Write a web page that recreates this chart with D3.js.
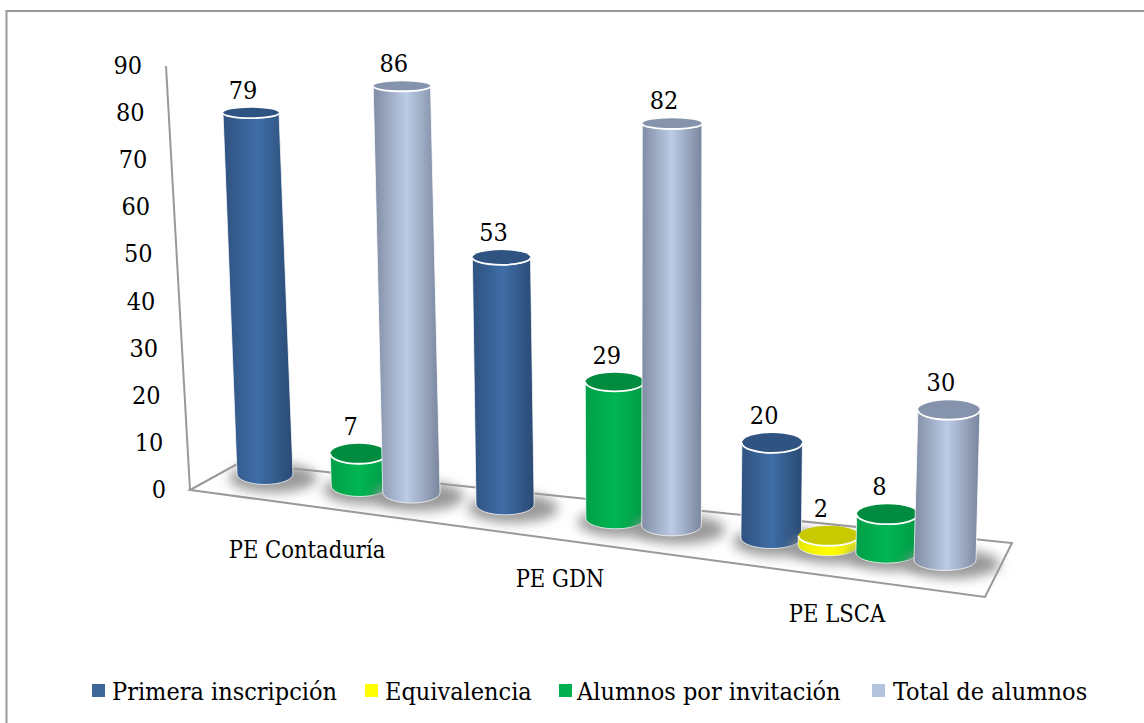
<!DOCTYPE html>
<html>
<head>
<meta charset="utf-8">
<script src="https://cdn.jsdelivr.net/npm/d3@7"></script>
<style>
  body { margin: 0; background: #fff; }
  text { font-family: "DejaVu Serif", serif; font-stretch: condensed; fill: #000; }
</style>
</head>
<body>
<div id="chart"></div>
<script>
// Data
const categories = ["PE Contaduría", "PE GDN", "PE LSCA"];
const seriesNames = ["Primera inscripción", "Equivalencia", "Alumnos por invitación", "Total de alumnos"];
const primera = [79, 53, 20];
const equivalencia = [null, null, 2];
const invitacion = [7, 29, 8];
const total = [86, 82, 30];
const yTicks = [0, 10, 20, 30, 40, 50, 60, 70, 80, 90];

const seriesValues = [primera, equivalencia, invitacion, total];
const sideColors = [
    ["#2f5280", "#3f6da6", "#2a4a73"],
    ["#e8e800", "#ffff00", "#e8e800"],
    ["#00a048", "#00b652", "#009a45"],
    ["#808ca3", "#bccbe6", "#79859c"]
];
const topColors = ["#2f5482", "#c9c900", "#008c40", "#8693ac"];
const legendColors = ["#3d6797", "#ffff00", "#00b050", "#b4c3de"];

const width = 1144, height = 723;
const svg = d3.select("#chart").append("svg")
    .attr("width", width)
    .attr("height", height);

const defs = svg.append("defs");
defs.append("filter").attr("id", "blur")
    .attr("x", "-50%").attr("y", "-100%").attr("width", "200%").attr("height", "300%")
    .append("feGaussianBlur").attr("stdDeviation", 6);
sideColors.forEach((c, i) => {
    const g = defs.append("linearGradient").attr("id", `side${i}`);
    g.append("stop").attr("offset", "0%").attr("stop-color", c[0]);
    g.append("stop").attr("offset", "50%").attr("stop-color", c[1]);
    g.append("stop").attr("offset", "100%").attr("stop-color", c[2]);
});

// Chart frame: only the top and left edges are inside the picture
svg.append("path")
    .attr("d", `M${width},11H6.5V${height}`)
    .attr("fill", "none").attr("stroke", "#999").attr("stroke-width", 2);

// Perspective scales: slot along the floor -> screen position
const slotStep = 4.75;
const xPos = d3.scalePow().exponent(1.076).domain([0, 12.5]).range([265, 945]);
const baseY = d3.scaleLinear().domain([265, 945]).range([474, 560]);
const unit = d3.scaleLinear().domain([265, 945]).range([4.57, 4.82]);
const totalBoost = d3.scaleLinear().domain([415, 670]).range([0.1, 0.18]).clamp(true);
const lean = d3.scaleLinear().domain([265, 945]).range([-0.177, 0.13]);
const radius = d3.scaleLinear().domain([265, 945]).range([28, 31]);
const topRy = d3.scaleLinear().domain([100, 430]).range([5, 10]).clamp(true);
const yAxisScale = d3.scaleLinear().domain([0, 90]).range([490, 66]);
const axisX = d3.scaleLinear().domain([0, 90]).range([190, 166]);

// Floor and wall
svg.append("path")
    .attr("d", "M190,490L239,463L1012,543L985,597Z")
    .attr("fill", "#fff").attr("stroke", "#999").attr("stroke-width", 2);
svg.append("line")
    .attr("x1", axisX(0)).attr("y1", yAxisScale(0))
    .attr("x2", axisX(90)).attr("y2", yAxisScale(90))
    .attr("stroke", "#999").attr("stroke-width", 2);

// Y tick labels follow the slanted wall
svg.append("g").selectAll("text").data(yTicks).join("text")
    .attr("x", d => axisX(d) - 24)
    .attr("y", d => yAxisScale(d) + 8)
    .attr("text-anchor", "end")
    .attr("font-size", 25)
    .text(d => d);

// Flatten into one bar list, left to right
const bars = [];
categories.forEach((cat, i) => {
    seriesValues.forEach((vals, j) => {
        if (vals[i] == null) return;
        bars.push({ series: j, value: vals[i], slot: i * slotStep + j });
    });
});

const barG = svg.append("g");
bars.forEach(d => {
    const bx = xPos(d.slot);
    const by = baseY(bx);
    const rx = radius(bx);
    const tx = bx + lean(bx) * d.value;
    const boost = d.series === 3 ? totalBoost(bx) : 0;
    const ty = by - (unit(bx) + boost) * d.value;
    const ry = topRy(ty);
    const ryB = 10.5;
    const g = barG.append("g");

    // soft shadow on the floor
    g.append("ellipse")
        .attr("cx", bx + 8).attr("cy", by + 4)
        .attr("rx", rx + 16).attr("ry", ryB + 4)
        .attr("fill", "#999")
        .attr("filter", "url(#blur)");

    // cylinder wall
    g.append("path")
        .attr("d", `M${tx - rx},${ty}L${bx - rx},${by}A${rx},${ryB} 0 0 0 ${bx + rx},${by}L${tx + rx},${ty}A${rx},${ry} 0 0 1 ${tx - rx},${ty}Z`)
        .attr("fill", `url(#side${d.series})`)
        .attr("stroke", "#fff").attr("stroke-opacity", 0.75);

    // top cap, with the bright rim on its front edge only
    g.append("ellipse")
        .attr("cx", tx).attr("cy", ty)
        .attr("rx", rx).attr("ry", ry)
        .attr("fill", topColors[d.series]);
    g.append("path")
        .attr("d", `M${tx - rx},${ty}A${rx},${ry} 0 0 0 ${tx + rx},${ty}`)
        .attr("fill", "none")
        .attr("stroke", "#fff").attr("stroke-width", 1.8);

    g.append("text")
        .attr("x", tx - 8)
        .attr("y", ty - ry - 9)
        .attr("text-anchor", "middle")
        .attr("font-size", 25)
        .text(d.value);
});

// Category labels
const catX = [307, 560, 837];
const catY = [558, 587, 622];
svg.append("g").selectAll("text").data(categories).join("text")
    .attr("x", (d, i) => catX[i])
    .attr("y", (d, i) => catY[i])
    .attr("text-anchor", "middle")
    .attr("font-size", 23.5)
    .text(d => d);

// Legend
const legendSwatch = [92, 365, 559, 872];
const legendText = [112, 385, 577, 893];
const legend = svg.append("g");
seriesNames.forEach((name, i) => {
    legend.append("rect")
        .attr("x", legendSwatch[i]).attr("y", 684)
        .attr("width", 13).attr("height", 13)
        .attr("fill", legendColors[i]);
    legend.append("text")
        .attr("x", legendText[i]).attr("y", 700)
        .attr("font-size", 25)
        .text(name);
});
</script>
</body>
</html>
